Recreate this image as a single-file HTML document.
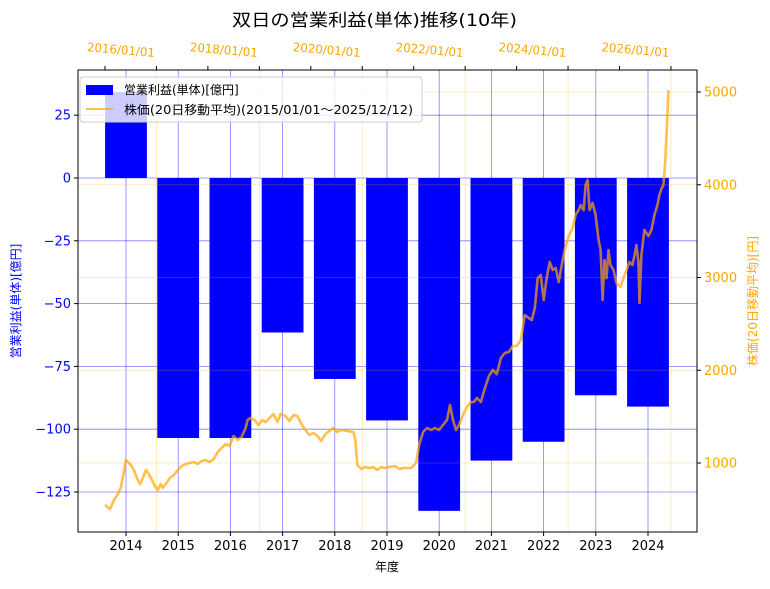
<!DOCTYPE html>
<html><head><meta charset="utf-8"><style>
body{margin:0;background:#fff;}
svg{font-family:"DejaVu Sans","Noto Sans CJK JP",sans-serif;}
</style></head><body>
<svg id="c" width="770" height="584" viewBox="0 0 770 584" xmlns="http://www.w3.org/2000/svg"></svg>
<script>
const years=[2014,2015,2016,2017,2018,2019,2020,2021,2022,2023,2024];
const profits=[34.2,-103.5,-103.5,-61.5,-80,-96.5,-132.5,-112.5,-105,-86.5,-91];
const leftTicks=[25,0,-25,-50,-75,-100,-125];
const rightTicks=[1000,2000,3000,4000,5000];
const topTickLabels=["2016/01/01","2018/01/01","2020/01/01","2022/01/01","2024/01/01","2026/01/01"];
const topTickYears=[2016,2018,2020,2022,2024,2026];
const priceT=[0,.097,.174,.252,.31,.368,.407,.446,.504,.562,.62,.678,.736,.795,.853,.911,.969,1.027,1.085,1.124,1.182,1.26,1.337,1.415,1.492,1.57,1.647,1.725,1.802,1.88,1.957,2.035,2.112,2.19,2.267,2.345,2.422,2.5,2.578,2.655,2.733,2.771,2.829,2.907,2.984,3.062,3.12,3.198,3.275,3.353,3.411,3.508,3.585,3.663,3.74,3.818,3.895,3.973,4.05,4.128,4.205,4.283,4.36,4.438,4.516,4.593,4.709,4.826,4.864,4.903,4.981,5.058,5.136,5.213,5.291,5.368,5.446,5.523,5.64,5.717,5.795,5.872,5.95,6.047,6.105,6.182,6.26,6.337,6.415,6.492,6.57,6.647,6.705,6.764,6.822,6.88,6.957,7.035,7.112,7.171,7.229,7.306,7.384,7.461,7.539,7.616,7.694,7.771,7.849,7.926,8.004,8.081,8.159,8.236,8.295,8.353,8.411,8.469,8.527,8.585,8.643,8.702,8.76,8.818,8.876,8.934,9.012,9.089,9.147,9.205,9.244,9.302,9.341,9.38,9.419,9.477,9.535,9.593,9.632,9.671,9.709,9.748,9.787,9.826,9.884,9.942,10.019,10.078,10.136,10.194,10.252,10.291,10.329,10.368,10.388,10.426,10.484,10.562,10.62,10.678,10.736,10.775,10.814,10.853,10.891,10.93,10.95];
const priceV=[547,504,601,666,741,903,1032,1011,978,925,838,774,838,925,881,817,752,709,774,730,774,838,871,925,968,989,1000,1011,989,1022,1032,1011,1043,1119,1162,1205,1183,1291,1248,1280,1377,1464,1485,1464,1410,1464,1442,1485,1528,1442,1528,1507,1453,1517,1507,1420,1356,1302,1323,1291,1237,1313,1345,1377,1334,1356,1345,1334,1248,978,935,957,946,957,925,957,946,957,968,935,946,946,946,1000,1194,1334,1377,1356,1377,1356,1410,1464,1625,1464,1356,1410,1517,1604,1658,1658,1701,1658,1809,1938,2003,1959,2132,2186,2197,2261,2261,2326,2595,2563,2542,2671,2994,3027,2757,2994,3167,3081,3102,2951,3134,3296,3447,3533,3673,3727,3781,3727,3997,4051,3727,3803,3673,3404,3296,2757,3188,2994,3296,3134,3081,2940,2897,2994,3081,3167,3134,3242,3350,3167,2725,3242,3512,3447,3512,3673,3781,3889,3954,3997,4266,4719,5021];

const L=78,R=697,T=70,B=532;
const xYear=v=>126+(v-2014)*52.2;
const yL=v=>178-v*2.512;
const yR=v=>463-(v-1000)*0.09275;
const xDate=v=>105+(v-2015)*51.45;
const NS="http://www.w3.org/2000/svg";
const svg=document.getElementById('c');
function mk(tag,attrs,parent){const e=document.createElementNS(NS,tag);for(const k in attrs)e.setAttribute(k,attrs[k]);(parent||svg).appendChild(e);return e;}
function txt(s,attrs){const e=mk('text',attrs);e.textContent=s;return e;}

const bg=mk('g',{});


years.forEach((y,i)=>{const v=profits[i];const y0=yL(Math.max(0,v)),y1=yL(Math.min(0,v));
 const r=mk('rect',{x:xYear(y)-20.9,y:y0,width:41.8,height:y1-y0,fill:'#0000ff'},bg);
 
 });

const gg=mk('g',{});


leftTicks.forEach(t=>mk('line',{x1:L,x2:R,y1:yL(t),y2:yL(t),stroke:'#0000ff','stroke-opacity':0.5,'stroke-width':0.8},gg));
years.forEach(t=>mk('line',{x1:xYear(t),x2:xYear(t),y1:T,y2:B,stroke:'#0000ff','stroke-opacity':0.5,'stroke-width':0.8},gg));
rightTicks.forEach(t=>mk('line',{x1:L,x2:R,y1:yR(t),y2:yR(t),stroke:'orange','stroke-opacity':0.3,'stroke-width':0.8},gg));
topTickYears.forEach(t=>mk('line',{x1:xDate(t),x2:xDate(t),y1:T,y2:B,stroke:'orange','stroke-opacity':0.3,'stroke-width':0.8},gg));

const pts=priceT.map((t,i)=>xDate(2015+t).toFixed(1)+','+yR(priceV[i]).toFixed(1)).join(' ');
const pl=mk('polyline',{points:pts,fill:'none',stroke:'orange','stroke-opacity':0.7,'stroke-width':2.6,'stroke-linejoin':'round'});



mk('rect',{x:L,y:T,width:R-L,height:B-T,fill:'none',stroke:'#000','stroke-width':1});

leftTicks.forEach(t=>{mk('line',{x1:L-4,x2:L,y1:yL(t),y2:yL(t),stroke:'#000'});
 const e=txt(t<0?'\u2212'+(-t):String(t),{x:L-7,y:yL(t)+4.5,'text-anchor':'end','font-size':13,fill:'#0000ff'});
 
 });
rightTicks.forEach(t=>{mk('line',{x1:R,x2:R+4,y1:yR(t),y2:yR(t),stroke:'#000'});
 const e=txt(String(t),{x:R+7,y:yR(t)+4.5,'font-size':13,fill:'orange'});
 
 });
years.forEach(t=>{mk('line',{x1:xYear(t),x2:xYear(t),y1:B,y2:B+4,stroke:'#000'});
 const e=txt(String(t),{x:xYear(t),y:B+18,'text-anchor':'middle','font-size':13,fill:'#000'});
 
 });
for(let yr=2015;yr<=2026;yr++){mk('line',{x1:xDate(yr),x2:xDate(yr),y1:T-4,y2:T,stroke:'#000'});}
topTickYears.forEach((t,i)=>{const x=xDate(t)-2;
 const e=txt(topTickLabels[i],{x:x-68,y:57,'font-size':12,fill:'orange',textLength:68,lengthAdjust:'spacingAndGlyphs',transform:`rotate(5 ${x} 57)`});
 
 });
</script>
<svg width="770" height="584" style="position:absolute;left:0;top:0" xmlns="http://www.w3.org/2000/svg">
<text x="232" y="26" textLength="285" lengthAdjust="spacingAndGlyphs" font-size="17" font-family="DejaVu Sans,Noto Sans CJK JP,sans-serif">双日の営業利益(単体)推移(10年)</text>
<text x="387" y="571" text-anchor="middle" font-size="12" font-family="DejaVu Sans,Noto Sans CJK JP,sans-serif">年度</text>
<text transform="translate(20 301) rotate(-90)" text-anchor="middle" font-size="12" fill="#0000ff" font-family="DejaVu Sans,Noto Sans CJK JP,sans-serif">営業利益(単体)[億円]</text>
<text transform="translate(757 301) rotate(-90)" text-anchor="middle" font-size="12" fill="orange" font-family="DejaVu Sans,Noto Sans CJK JP,sans-serif">株価(20日移動平均)[円]</text>
<g>
<rect x="80" y="77" width="342" height="45" rx="3" fill="#fff" fill-opacity="0.8" stroke="#ccc"/>
<rect x="86" y="85" width="27" height="10" fill="#0000ff"/>
<text x="124" y="94" font-size="12" font-family="DejaVu Sans,Noto Sans CJK JP,sans-serif">営業利益(単体)[億円]</text>
<line x1="86" x2="113" y1="109" y2="109" stroke="orange" stroke-opacity="0.7" stroke-width="2"/>
<text x="124" y="114" font-size="12" textLength="289" lengthAdjust="spacingAndGlyphs" font-family="DejaVu Sans,Noto Sans CJK JP,sans-serif">株価(20日移動平均)(2015/01/01～2025/12/12)</text>
</g>
</svg>
</body></html>
